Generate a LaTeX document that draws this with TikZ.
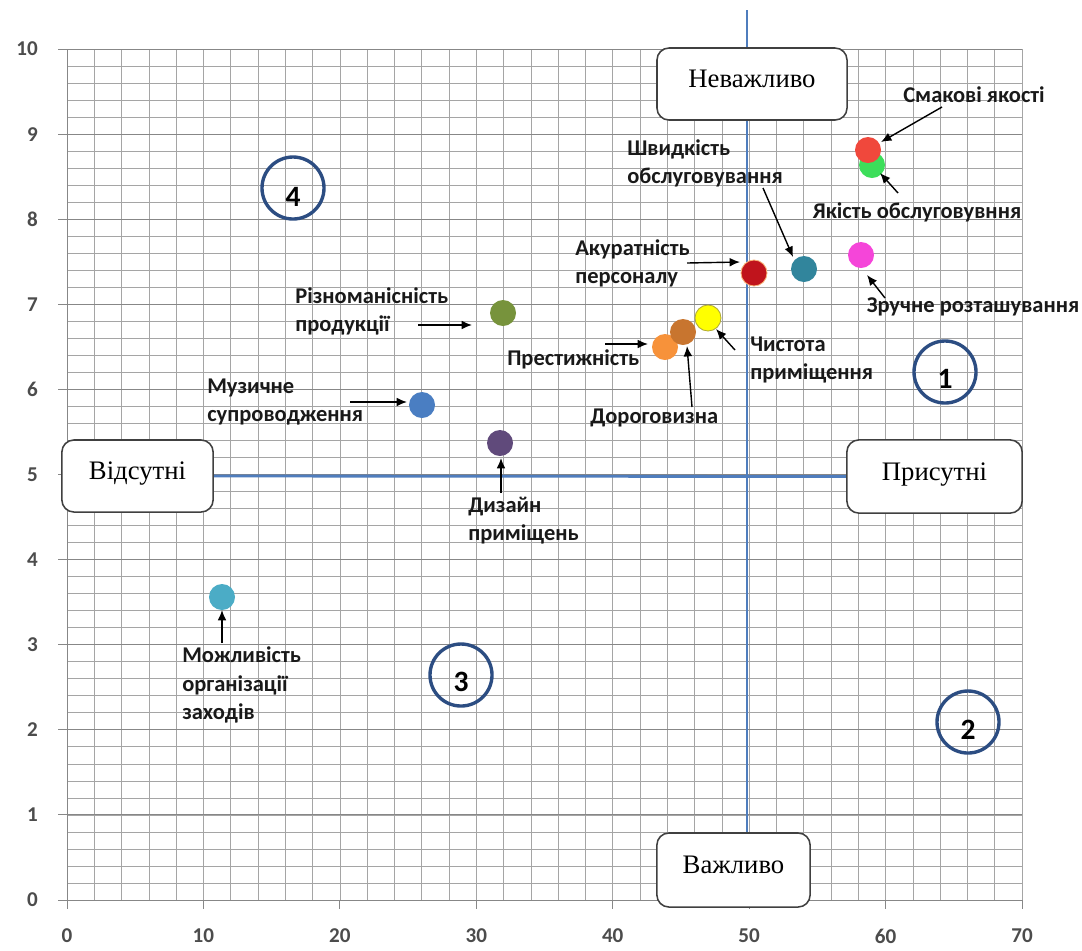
\documentclass[tikz,border=0pt]{standalone}
\usepackage{fontspec}
\setmainfont{Liberation Serif}
\newfontfamily\calib{Carlito}
\usetikzlibrary{arrows.meta}

\definecolor{gridc}{RGB}{165,165,165}
\definecolor{gridmaj}{RGB}{135,135,135}
\definecolor{axisblue}{RGB}{79,125,189}
\definecolor{ringblue}{RGB}{44,77,130}
\definecolor{cRed}{RGB}{240,72,60}
\definecolor{cGreen}{RGB}{60,222,90}
\definecolor{cTeal}{RGB}{49,133,156}
\definecolor{cDarkRed}{RGB}{192,20,28}
\definecolor{cMagenta}{RGB}{245,69,217}
\definecolor{cYellow}{RGB}{255,255,0}
\definecolor{cBrown}{RGB}{200,117,47}
\definecolor{cOrange}{RGB}{247,146,58}
\definecolor{cOlive}{RGB}{119,147,60}
\definecolor{cBlue}{RGB}{74,126,194}
\definecolor{cPurple}{RGB}{96,74,123}
\definecolor{cCyan}{RGB}{75,172,198}

\pgfdeclarelayer{gridlayer}
\pgfdeclarelayer{dividers}
\pgfsetlayers{gridlayer,dividers,main}

\begin{document}
\begin{tikzpicture}[x=0.025cm,y=-0.025cm,
  minorline/.style={draw=gridc, line width=0.5pt},
  majorline/.style={draw=gridmaj, line width=0.7pt},
  divider/.style={draw=axisblue, line width=2pt},
  tagbox/.style={draw=black!75, line width=1.1pt, rounded corners=0.3cm, fill=white,
                 inner sep=0pt, font=\fontsize{19}{22}\selectfont},
  ring/.style={circle, draw=ringblue, line width=2.4pt, minimum size=1.55cm, inner sep=0pt},
  ringnum/.style={font=\calib\bfseries\fontsize{21}{21}\selectfont, inner sep=0pt},
  dot/.style={circle, inner sep=0pt, minimum size=0.65cm},
  lab/.style={font=\calib\bfseries\fontsize{16}{20}\selectfont, text=black!90,
              inner sep=0pt, align=left},
  ticklab/.style={font=\calib\bfseries\fontsize{15}{15}\selectfont, text=black!70, inner sep=0pt},
  pointer/.style={draw=black, line width=1pt, -{Latex[length=0.26cm,width=0.22cm]}},
]
\useasboundingbox (0,0) rectangle (1082,950);

% grid, axis ticks and tick labels
\begin{pgfonlayer}{gridlayer}
  \foreach \j in {0,...,50}
    \draw[minorline] (67,{900-17.02*\j}) -- (1022,{900-17.02*\j});
  \foreach \k in {0,...,35}
    \draw[minorline] ({67+27.2857*\k},49) -- ({67+27.2857*\k},900);
  \foreach \j in {0,...,10} {
    \draw[majorline] (58,{900-85.1*\j}) -- (1022,{900-85.1*\j});
    \node[ticklab, anchor=east] at (38,{900-85.1*\j}) {\j};
  }
  \draw[majorline] (67,49) -- (67,900);
  \foreach \k/\v in {0/0,1/10,2/20,3/30,4/40,5/50,6/60,7/70} {
    \draw[majorline] ({67+136.43*\k},900) -- ({67+136.43*\k},909);
    \node[ticklab] at ({67+136.43*\k},936) {\v};
  }
\end{pgfonlayer}

% quadrant boxes
\node[tagbox, minimum width=4.75cm, minimum height=1.8cm] (unimp) at (752,84) {\raisebox{0.25cm}{Неважливо}};
\node[tagbox, minimum width=3.83cm, minimum height=1.85cm] (imp) at (733.5,870) {\raisebox{0.25cm}{Важливо}};
\node[tagbox, minimum width=3.78cm, minimum height=1.8cm] (absent) at (137.5,476) {\raisebox{0.25cm}{Відсутні}};
\node[tagbox, minimum width=4.38cm, minimum height=1.83cm] (present) at (934.5,476.5) {\raisebox{0.25cm}{Присутні}};

% dividing lines
\coordinate (vtop) at (747,10);
\begin{pgfonlayer}{dividers}
  \draw[divider] (vtop) -- (vtop |- imp.north);
  \draw[divider] (absent.east) -- (present.west);
\end{pgfonlayer}

% quadrant numbers
\node[ring] (q1) at (945,372) {};
\node[ringnum] at ([yshift=-0.16cm]q1.center) {1};
\node[ring] (q2) at (968,722) {};
\node[ringnum] at ([yshift=-0.2cm]q2.center) {2};
\node[ring] (q3) at (461,675) {};
\node[ringnum] at ([yshift=-0.18cm]q3.center) {3};
\node[ring] (q4) at (293,188) {};
\node[ringnum] at ([yshift=-0.22cm]q4.center) {4};

% data points
\node[dot, fill=cGreen] (quality) at (872,165) {};
\node[dot, fill=cRed] (taste) at (868,150) {};
\node[dot, fill=cTeal] (speed) at (804,269) {};
\node[dot, fill=cDarkRed, draw=cOrange!70, line width=0.6pt] (neat) at (754,273) {};
\node[dot, fill=cMagenta] (location) at (861,255) {};
\node[dot, fill=cOrange] (prestige) at (665,347) {};
\node[dot, fill=cBrown] (price) at (683,332) {};
\node[dot, fill=cYellow, draw=olive!70, line width=0.6pt] (clean) at (708,318) {};
\node[dot, fill=cOlive] (variety) at (503,313) {};
\node[dot, fill=cBlue] (music) at (422,405) {};
\node[dot, fill=cPurple] (design) at (500,443) {};
\node[dot, fill=cCyan] (events) at (222,597) {};

% labels
\node[lab] (lTaste) at (974,95) {Смакові якості};
\node[lab] (lQuality) at (917,212) {Якість обслуговувння};
\node[lab, anchor=west] (lSpeed) at (627,163.5) {Швидкість\\обслуговування};
\node[lab, anchor=west] (lNeat) at (575,263) {Акуратність\\персоналу};
\node[lab] (lLocation) at (973,307) {Зручне розташування};
\node[lab, anchor=west] (lVariety) at (295,311) {Різноманісність\\продукції};
\node[lab, anchor=west] (lMusic) at (207,402) {Музичне\\супроводження};
\node[lab, anchor=west] (lDesign) at (468,521) {Дизайн\\приміщень};
\node[lab, anchor=west] (lPrestige) at (507,359) {Престижність};
\node[lab, anchor=west] (lPrice) at (590,418) {Дороговизна};
\node[lab, anchor=west] (lClean) at (750,360) {Чистота\\приміщення};
\node[lab, anchor=west] (lEvents) at (182,685) {Можливість\\організації\\заходів};

% pointer arrows
\coordinate (s1) at (942,107);  \coordinate (e1) at (881,142);
\coordinate (s2) at (898,193);  \coordinate (e2) at (880,173);
\coordinate (s3) at (763,188);  \coordinate (e3) at (793,257);
\coordinate (s4) at (687,263);  \coordinate (e4) at (740,262);
\coordinate (s5) at (885,298);  \coordinate (e5) at (867,275);
\coordinate (s6) at (418,325);  \coordinate (e6) at (472,325);
\coordinate (s7) at (350,402);  \coordinate (e7) at (407,402);
\coordinate (s8) at (501,493);  \coordinate (e8) at (501,458);
\coordinate (s9) at (605,344);  \coordinate (e9) at (648,344);
\coordinate (s10) at (692,407); \coordinate (e10) at (687,346);
\coordinate (s11) at (735,350); \coordinate (e11) at (716,329);
\coordinate (s12) at (222,643); \coordinate (e12) at (222,610);
\foreach \i in {1,...,12}
  \draw[pointer] (s\i) -- (e\i);
\end{tikzpicture}
\end{document}
